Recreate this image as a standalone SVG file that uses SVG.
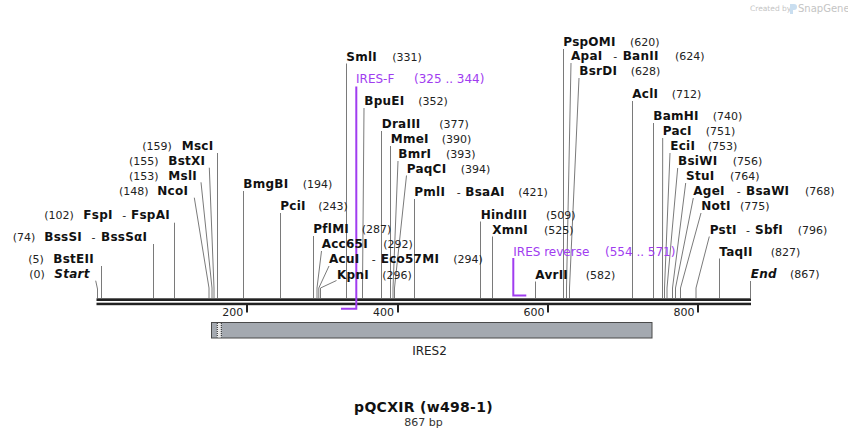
<svg xmlns="http://www.w3.org/2000/svg" width="848" height="438" viewBox="0 0 848 438">
<style>
text{font-family:"DejaVu Sans","Verdana",sans-serif;fill:#111}
.n{font-weight:bold;font-size:12px;letter-spacing:0.25px}
.i{font-weight:bold;font-style:italic;font-size:12px;letter-spacing:0.25px}
.p{font-size:11px;fill:#222}
.d{font-size:11px;fill:#222}
.pr{font-size:12px;fill:#a03cf0}
.tk{font-size:11px;fill:#222;text-anchor:end}
.cut{fill:none;stroke:#7a7a7a;stroke-width:1}
.prl{fill:none;stroke:#a03cf0;stroke-width:2}
.wm{font-size:9px;fill:#c4c4c4}
</style>
<rect width="848" height="438" fill="#ffffff"/>

<g id="watermark">
<text class="wm" x="750" y="11" style="font-size:7.5px">Created by</text>
<path d="M790 4 h4 a3 3 0 0 1 0 6 h-1 v4 h-3 z" fill="#c9def0"/>
<text class="wm" x="798" y="12" style="font-size:10px">SnapGene</text>
</g>

<g id="backbone">
<rect x="96.5" y="298.3" width="654.5" height="2.7" fill="#222"/>
<rect x="96.5" y="302.7" width="654.5" height="2.5" fill="#222"/>
<rect x="246" y="305" width="2" height="7.5" fill="#222"/>
<rect x="397" y="305" width="2" height="7.5" fill="#222"/>
<rect x="547" y="305" width="2" height="7.5" fill="#222"/>
<rect x="697" y="305" width="2" height="7.5" fill="#222"/>
<text class="tk" x="243.3" y="315.5">200</text>
<text class="tk" x="394" y="315.5">400</text>
<text class="tk" x="544.5" y="315.5">600</text>
<text class="tk" x="694.5" y="315.5">800</text>
</g>

<g id="IRES2">
<rect x="211.5" y="322.5" width="440.5" height="15.5" fill="#a4a9b0" stroke="#4a4a4a" stroke-width="1"/>
<rect x="217" y="323" width="4.3" height="14.5" fill="#e8e8e8"/>
<line x1="217.3" y1="323" x2="217.3" y2="337.5" stroke="#222" stroke-width="1" stroke-dasharray="1,1"/>
<line x1="221.3" y1="323" x2="221.3" y2="337.5" stroke="#222" stroke-width="1" stroke-dasharray="1,1"/>
<text x="429.5" y="355" text-anchor="middle" style="font-size:12px;fill:#222">IRES2</text>
</g>

<g id="connectors">
<path class="cut" d="M95.7 280.7 L97.5 289 V298"/>
<path class="cut" d="M101.5 266 V298"/>
<path class="cut" d="M153.5 244 V298"/>
<path class="cut" d="M174.5 222.7 V298"/>
<path class="cut" d="M194.3 197.7 L209 288 V298"/>
<path class="cut" d="M201 182.3 L212 288 V298"/>
<path class="cut" d="M209.3 167.7 L214 288 V298"/>
<path class="cut" d="M217.5 153 V298"/>
<path class="cut" d="M243.5 191 V298"/>
<path class="cut" d="M280.5 213 V298"/>
<path class="cut" d="M313.5 236 V298"/>
<path class="cut" d="M321.5 251 L317 288 V298"/>
<path class="cut" d="M329 266 L318.8 288 V298"/>
<path class="cut" d="M336.5 280.5 L320.5 288 V298"/>
<path class="cut" d="M346.5 63.5 V298"/>
<path class="cut" d="M364 108 L362.5 288 V298"/>
<path class="cut" d="M381.5 131 V298"/>
<path class="cut" d="M390.5 146 V298"/>
<path class="cut" d="M398 161 L393 288 V298"/>
<path class="cut" d="M406.5 175.5 L394.5 288 V298"/>
<path class="cut" d="M414.5 199 V298"/>
<path class="cut" d="M480.5 221.5 V298"/>
<path class="cut" d="M492.5 236.5 V298"/>
<path class="cut" d="M535.5 281.5 V298"/>
<path class="cut" d="M563.5 49 V298"/>
<path class="cut" d="M571 63 L566.5 288 V298"/>
<path class="cut" d="M579 78 L569.5 288 V298"/>
<path class="cut" d="M632.5 101 V298"/>
<path class="cut" d="M653.5 123 V298"/>
<path class="cut" d="M662.7 138 L662.5 288 V298"/>
<path class="cut" d="M670 153 L664.5 288 V298"/>
<path class="cut" d="M677.7 168 L667 288 V298"/>
<path class="cut" d="M685.7 183 L672.5 288 V298"/>
<path class="cut" d="M693.3 198 L675.5 288 V298"/>
<path class="cut" d="M701 213 L680.5 288 V298"/>
<path class="cut" d="M709.3 236.5 L696 288 V298"/>
<path class="cut" d="M719.5 258.5 V298"/>
<path class="cut" d="M750.5 281 V298"/>
<path class="prl" d="M356.3 86.5 V308.7 H341"/>
<path class="prl" d="M513.3 258 V295.5 H526.3"/>
</g>

<g id="Start"><text class="p" x="29.3" y="278.3">(0)</text><text class="i" x="54.3" y="278.3">Start</text></g>
<g id="BstEII"><text class="p" x="28.3" y="263.3">(5)</text><text class="n" x="53.3" y="263.3">BstEII</text></g>
<g id="BssSI"><text class="p" x="12.7" y="240.7">(74)</text><text class="n" x="44.3" y="240.7">BssSI</text><text class="d" x="91.5" y="240.7">-</text><text class="n" x="101" y="240.7">BssSαI</text></g>
<g id="FspI"><text class="p" x="44.3" y="219.3">(102)</text><text class="n" x="83.3" y="219.3">FspI</text><text class="d" x="122.3" y="219.3">-</text><text class="n" x="131" y="219.3">FspAI</text></g>
<g id="NcoI"><text class="p" x="119" y="195">(148)</text><text class="n" x="157.3" y="195">NcoI</text></g>
<g id="MslI"><text class="p" x="129" y="180">(153)</text><text class="n" x="168.3" y="180">MslI</text></g>
<g id="BstXI"><text class="p" x="129" y="165">(155)</text><text class="n" x="168.3" y="165">BstXI</text></g>
<g id="MscI"><text class="p" x="142.3" y="150">(159)</text><text class="n" x="181.7" y="150">MscI</text></g>

<g id="BmgBI"><text class="n" x="243.3" y="188.3">BmgBI</text><text class="p" x="302.7" y="188.3">(194)</text></g>
<g id="PciI"><text class="n" x="280.3" y="210">PciI</text><text class="p" x="318.3" y="210">(243)</text></g>
<g id="PflMI"><text class="n" x="313.3" y="233.3">PflMI</text><text class="p" x="361.7" y="233.3">(287)</text></g>
<g id="Acc65I"><text class="n" x="321.7" y="248.3">Acc65I</text><text class="p" x="383.3" y="248.3">(292)</text></g>
<g id="AcuI"><text class="n" x="329" y="263.3">AcuI</text><text class="d" x="371.7" y="263.3">-</text><text class="n" x="380.7" y="263.3">Eco57MI</text><text class="p" x="453.3" y="263.3">(294)</text></g>
<g id="KpnI"><text class="n" x="337" y="279">KpnI</text><text class="p" x="382.3" y="279">(296)</text></g>
<g id="SmlI"><text class="n" x="346.3" y="60.7">SmlI</text><text class="p" x="392.3" y="60.7">(331)</text></g>
<g id="IRES-F"><text class="pr" x="356" y="83.3">IRES-F</text><text class="pr" x="414" y="83.3">(325 .. 344)</text></g>
<g id="BpuEI"><text class="n" x="364.3" y="105">BpuEI</text><text class="p" x="418.3" y="105">(352)</text></g>
<g id="DraIII"><text class="n" x="381.7" y="128.3">DraIII</text><text class="p" x="439.3" y="128.3">(377)</text></g>
<g id="MmeI"><text class="n" x="390.7" y="143.3">MmeI</text><text class="p" x="441.7" y="143.3">(390)</text></g>
<g id="BmrI"><text class="n" x="398.3" y="158.3">BmrI</text><text class="p" x="446" y="158.3">(393)</text></g>
<g id="PaqCI"><text class="n" x="406.7" y="172.7">PaqCI</text><text class="p" x="460.7" y="172.7">(394)</text></g>
<g id="PmlI"><text class="n" x="414.3" y="196">PmlI</text><text class="d" x="456.7" y="196">-</text><text class="n" x="465.3" y="196">BsaAI</text><text class="p" x="518.3" y="196">(421)</text></g>

<g id="HindIII"><text class="n" x="480.7" y="219">HindIII</text><text class="p" x="546" y="219">(509)</text></g>
<g id="XmnI"><text class="n" x="492.3" y="234">XmnI</text><text class="p" x="544" y="234">(525)</text></g>
<g id="IRES-reverse"><text class="pr" x="513.3" y="256">IRES reverse</text><text class="pr" x="605" y="256">(554 .. 571)</text></g>
<g id="AvrII"><text class="n" x="535.3" y="279">AvrII</text><text class="p" x="585.7" y="279">(582)</text></g>
<g id="PspOMI"><text class="n" x="563.3" y="46">PspOMI</text><text class="p" x="630" y="46">(620)</text></g>
<g id="ApaI"><text class="n" x="571" y="60">ApaI</text><text class="d" x="613.3" y="60">-</text><text class="n" x="622.7" y="60">BanII</text><text class="p" x="675" y="60">(624)</text></g>
<g id="BsrDI"><text class="n" x="579.3" y="75">BsrDI</text><text class="p" x="630.7" y="75">(628)</text></g>
<g id="AclI"><text class="n" x="632.3" y="98.3">AclI</text><text class="p" x="671.7" y="98.3">(712)</text></g>
<g id="BamHI"><text class="n" x="653.3" y="120">BamHI</text><text class="p" x="712.7" y="120">(740)</text></g>
<g id="PacI"><text class="n" x="662.7" y="135">PacI</text><text class="p" x="705.7" y="135">(751)</text></g>
<g id="EciI"><text class="n" x="670.3" y="150">EciI</text><text class="p" x="707.7" y="150">(753)</text></g>
<g id="BsiWI"><text class="n" x="678" y="165">BsiWI</text><text class="p" x="732.7" y="165">(756)</text></g>
<g id="StuI"><text class="n" x="686" y="180">StuI</text><text class="p" x="730" y="180">(764)</text></g>
<g id="AgeI"><text class="n" x="693.3" y="195">AgeI</text><text class="d" x="736.7" y="195">-</text><text class="n" x="746" y="195">BsaWI</text><text class="p" x="805" y="195">(768)</text></g>
<g id="NotI"><text class="n" x="701.3" y="210">NotI</text><text class="p" x="740" y="210">(775)</text></g>
<g id="PstI"><text class="n" x="709.7" y="234">PstI</text><text class="d" x="746" y="234">-</text><text class="n" x="755" y="234">SbfI</text><text class="p" x="797.7" y="234">(796)</text></g>
<g id="TaqII"><text class="n" x="719.3" y="255.7">TaqII</text><text class="p" x="770.7" y="255.7">(827)</text></g>
<g id="End"><text class="i" x="750.7" y="278.3">End</text><text class="p" x="790" y="278.3">(867)</text></g>

<g id="title">
<text x="423.5" y="412.3" text-anchor="middle" style="font-weight:bold;font-size:14px;letter-spacing:0.3px">pQCXIR (w498-1)</text>
<text x="423.5" y="425.5" text-anchor="middle" style="font-size:11px;fill:#333">867 bp</text>
</g>
</svg>
